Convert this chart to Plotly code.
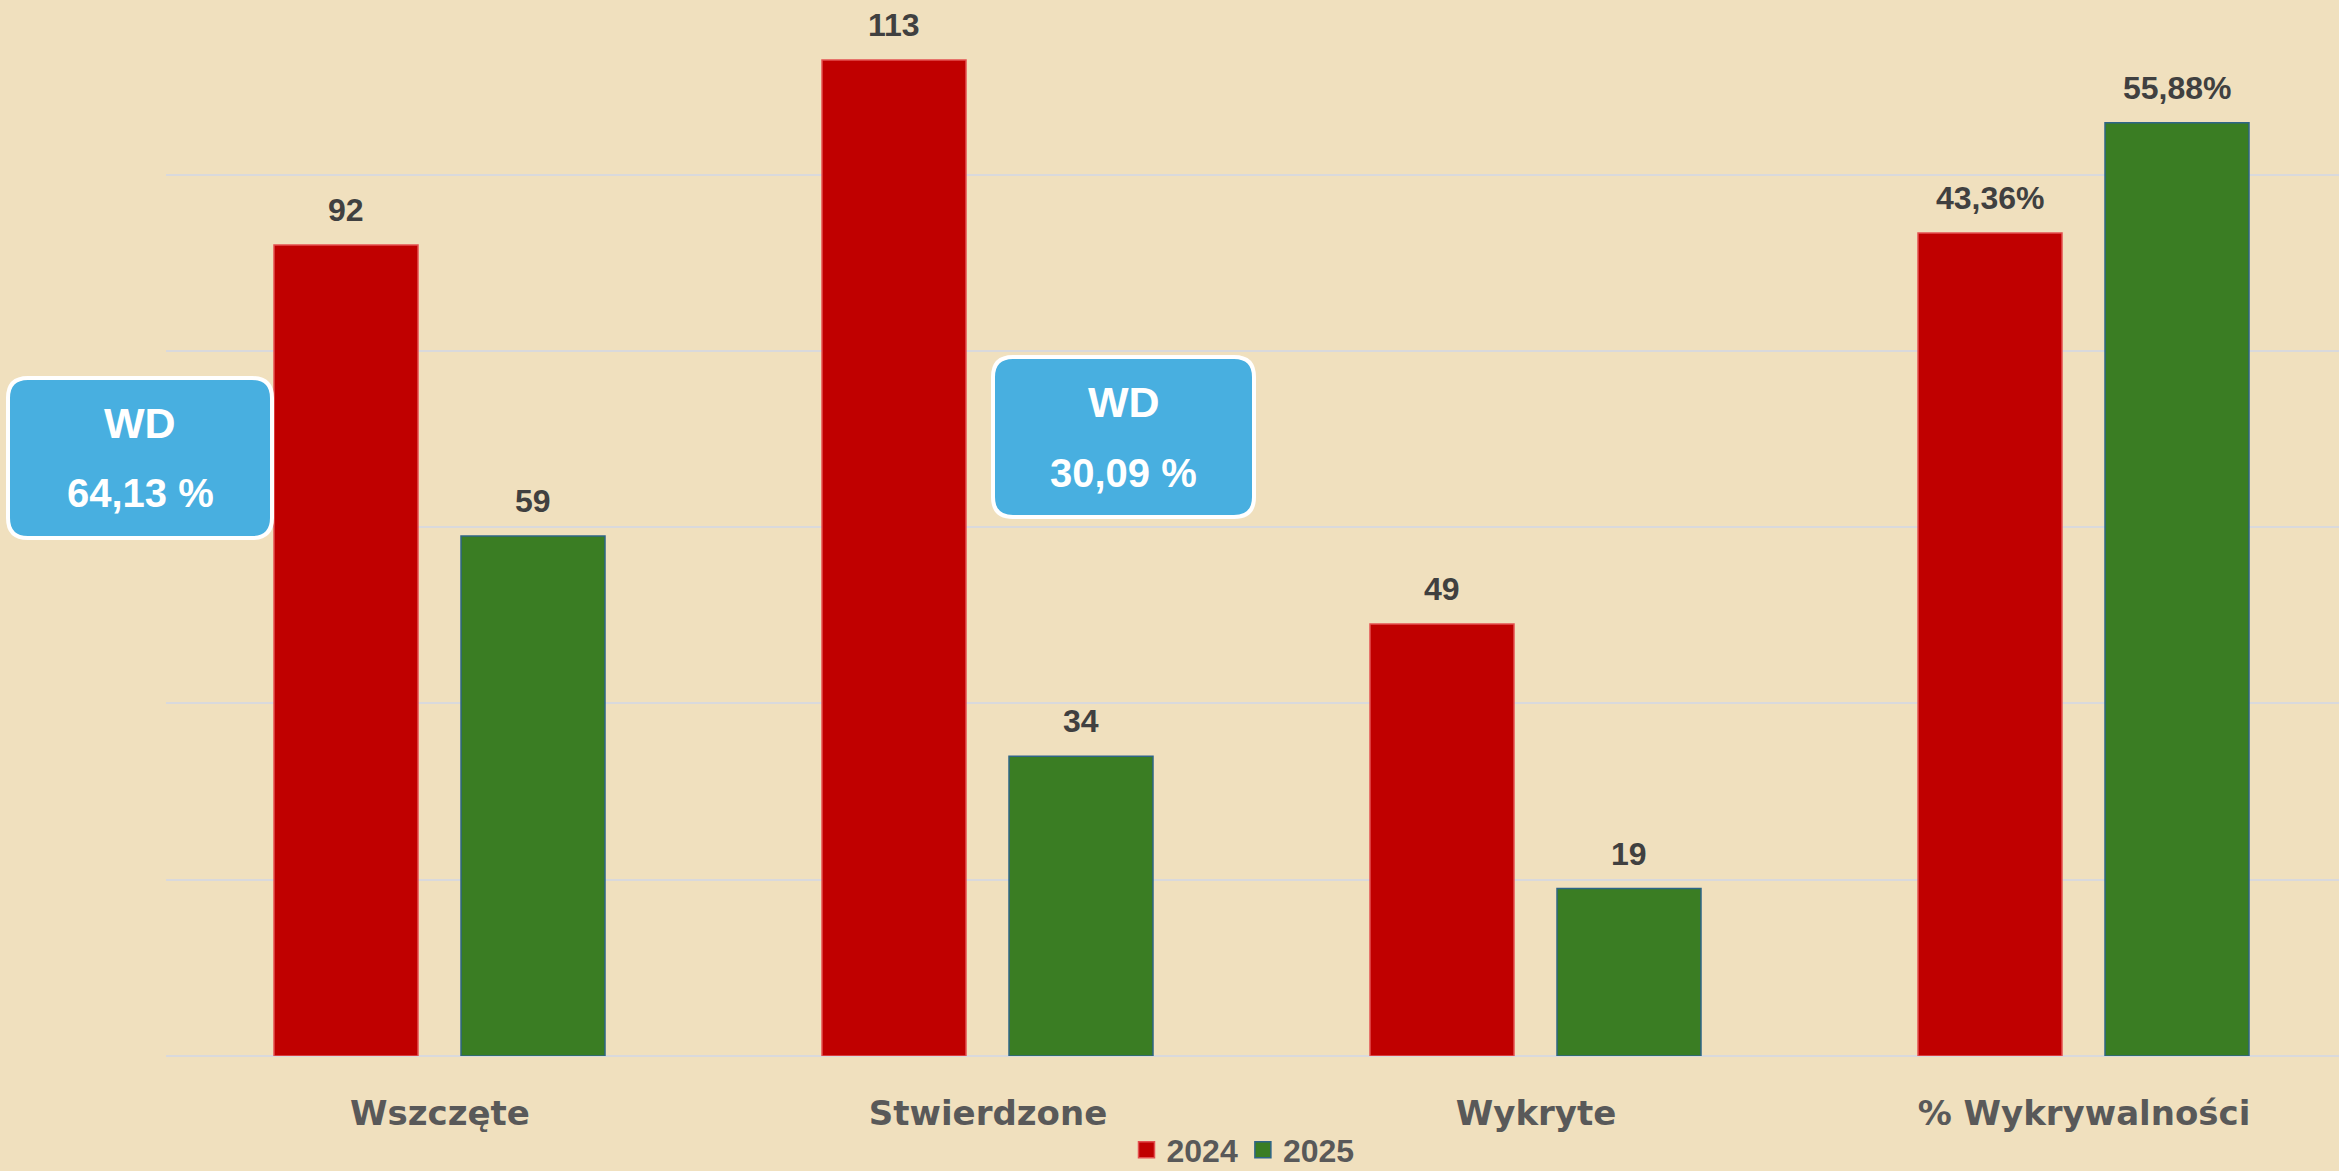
import plotly.graph_objects as go

# ---- data ----
categories = ["Wszczęte", "Stwierdzone", "Wykryte", "% Wykrywalności"]
count_categories = categories[:3]
pct_category = categories[3:]
values_2024 = [92, 113, 49]
values_2025 = [59, 34, 19]
pct_2024 = [43.36]
pct_2025 = [55.88]
pct_labels_2024 = ["43,36%"]
pct_labels_2025 = ["55,88%"]
wd_labels = ["64,13 %", "30,09 %"]
series_names = ["2024", "2025"]

# ---- layout constants (pixels) ----
W, H = 2339, 1171
ML, MR, MT, MB = 166, 0, 0, 115
PW, PH = W - ML - MR, H - MT - MB
CAT_PX = 548.0
PX_PER_UNIT = 8.815
Y_TOP = PH / PX_PER_UNIT
PCT_SHIFT = 50.0

BAR_W = 144 / CAT_PX
OFF_RED = -166 / CAT_PX
OFF_GREEN = 21 / CAT_PX
XMIN = -(440 - ML) / CAT_PX
XMAX = XMIN + PW / CAT_PX

RED = "#C00000"
GREEN = "#3A7D23"
RED_LINE = "#E35050"
GREEN_LINE = "#2E6587"
BG = "#F0E0BE"
LABEL_COL = "#404040"
AXIS_COL = "#595959"
FONT = "Liberation Sans, Arial, sans-serif"
TICK_FONT = "DejaVu Sans, Liberation Sans, sans-serif"

fig = go.Figure()

def bar(x, y, color, line_color, offset, yaxis, base=None):
    return go.Bar(
        x=x, y=y, showlegend=False, yaxis=yaxis, base=base,
        width=BAR_W, offset=offset,
        marker=dict(color=color, line=dict(color=line_color, width=1.5)),
        hoverinfo="skip",
    )

fig.add_trace(bar(count_categories, values_2024, RED, RED_LINE, OFF_RED, "y"))
fig.add_trace(bar(count_categories, values_2025, GREEN, GREEN_LINE, OFF_GREEN, "y"))
# percentage bars on a secondary scale whose zero sits 50 units above the baseline
fig.add_trace(bar(pct_category, [v + PCT_SHIFT for v in pct_2024], RED, RED_LINE, OFF_RED, "y2", base=-PCT_SHIFT))
fig.add_trace(bar(pct_category, [v + PCT_SHIFT for v in pct_2025], GREEN, GREEN_LINE, OFF_GREEN, "y2", base=-PCT_SHIFT))

# legend entries
for name, col, lc in zip(series_names, [RED, GREEN], [RED_LINE, GREEN_LINE]):
    fig.add_trace(go.Scatter(x=[None], y=[None], mode="markers", name=name,
                             marker=dict(symbol="square", size=16, color=col,
                                         line=dict(color=lc, width=1.5)),
                             showlegend=True, hoverinfo="skip"))

annotations = []
lab_font = dict(family=FONT, size=32, color=LABEL_COL, weight="bold")
def add_label(c, v, text, xs, yref):
    annotations.append(dict(x=c, y=v, xref="x", yref=yref, text=text, showarrow=False,
                            xshift=xs, yshift=15, yanchor="bottom", font=lab_font))

for c, v in zip(count_categories, values_2024):
    add_label(c, v, str(v), -94, "y")
for c, v in zip(count_categories, values_2025):
    add_label(c, v, str(v), 93, "y")
for c, v, t in zip(pct_category, pct_2024, pct_labels_2024):
    add_label(c, v, t, -94, "y2")
for c, v, t in zip(pct_category, pct_2025, pct_labels_2025):
    add_label(c, v, t, 93, "y2")

# ---- WD call-out boxes (pixel geometry) ----
def px_to_paper_x(px):
    return (px - ML) / PW

def px_to_paper_y(py):
    return (H - MB - py) / PH

def rounded_path(x0, y0, x1, y1, r):
    return (f"M{x0 + r},{y0} L{x1 - r},{y0} Q{x1},{y0} {x1},{y0 + r} "
            f"L{x1},{y1 - r} Q{x1},{y1} {x1 - r},{y1} L{x0 + r},{y1} "
            f"Q{x0},{y1} {x0},{y1 - r} L{x0},{y0 + r} Q{x0},{y0} {x0 + r},{y0} Z")

boxes = [  # left, top, right, bottom (screen px), WD centre y, pct centre y
    (8, 378, 272, 538, 423, 493),
    (993, 357, 1254, 517, 402, 473),
]
shapes = []
base = H - MB
for (l, t, r, b, ywd, ypc), lab in zip(boxes, wd_labels):
    shapes.append(dict(
        type="path", xref="paper", yref="paper", xsizemode="pixel", ysizemode="pixel",
        xanchor=px_to_paper_x(0), yanchor=0,
        path=rounded_path(l, base - b, r, base - t, 20),
        fillcolor="#48AFE0", line=dict(color="white", width=4), layer="above",
    ))
    cx = (l + r) / 2
    annotations.append(dict(x=px_to_paper_x(cx), y=px_to_paper_y(ywd), xref="paper", yref="paper",
                            text="WD", showarrow=False, xanchor="center", yanchor="middle",
                            font=dict(family=FONT, size=43, color="white", weight="bold")))
    annotations.append(dict(x=px_to_paper_x(cx), y=px_to_paper_y(ypc), xref="paper", yref="paper",
                            text=lab, showarrow=False, xanchor="center", yanchor="middle",
                            font=dict(family=FONT, size=40, color="white", weight="bold")))

fig.update_layout(
    width=W, height=H,
    margin=dict(l=ML, r=MR, t=MT, b=MB, pad=0, autoexpand=False),
    paper_bgcolor=BG, plot_bgcolor=BG,
    barmode="overlay",
    font=dict(family=FONT),
    xaxis=dict(type="category", categoryorder="array", categoryarray=categories,
               range=[XMIN, XMAX], showgrid=False, zeroline=False, showline=False,
               ticks="", ticklabelstandoff=34, automargin=False,
               tickfont=dict(family=TICK_FONT, size=34, color=AXIS_COL, weight="bold")),
    yaxis=dict(range=[0, Y_TOP], dtick=20, showticklabels=False, showgrid=True,
               gridcolor="#D9D9DC", gridwidth=2, zeroline=True, zerolinecolor="#D9D9DC",
               zerolinewidth=2, ticks="", automargin=False),
    yaxis2=dict(range=[-PCT_SHIFT, Y_TOP - PCT_SHIFT], overlaying="y", visible=False,
                showgrid=False, zeroline=False),
    legend=dict(orientation="h", xref="container", yref="container",
                x=1243 / W, xanchor="center",
                y=1 - 1150 / H, yanchor="middle", bgcolor="rgba(0,0,0,0)",
                font=dict(family=FONT, size=32, color=AXIS_COL, weight="bold"),
                itemwidth=30, tracegroupgap=0),
    shapes=shapes,
    annotations=annotations,
)

fig.write_html("out.html", config={"displayModeBar": False},
               post_script="document.body.style.margin='0';document.body.style.overflow='hidden';")
